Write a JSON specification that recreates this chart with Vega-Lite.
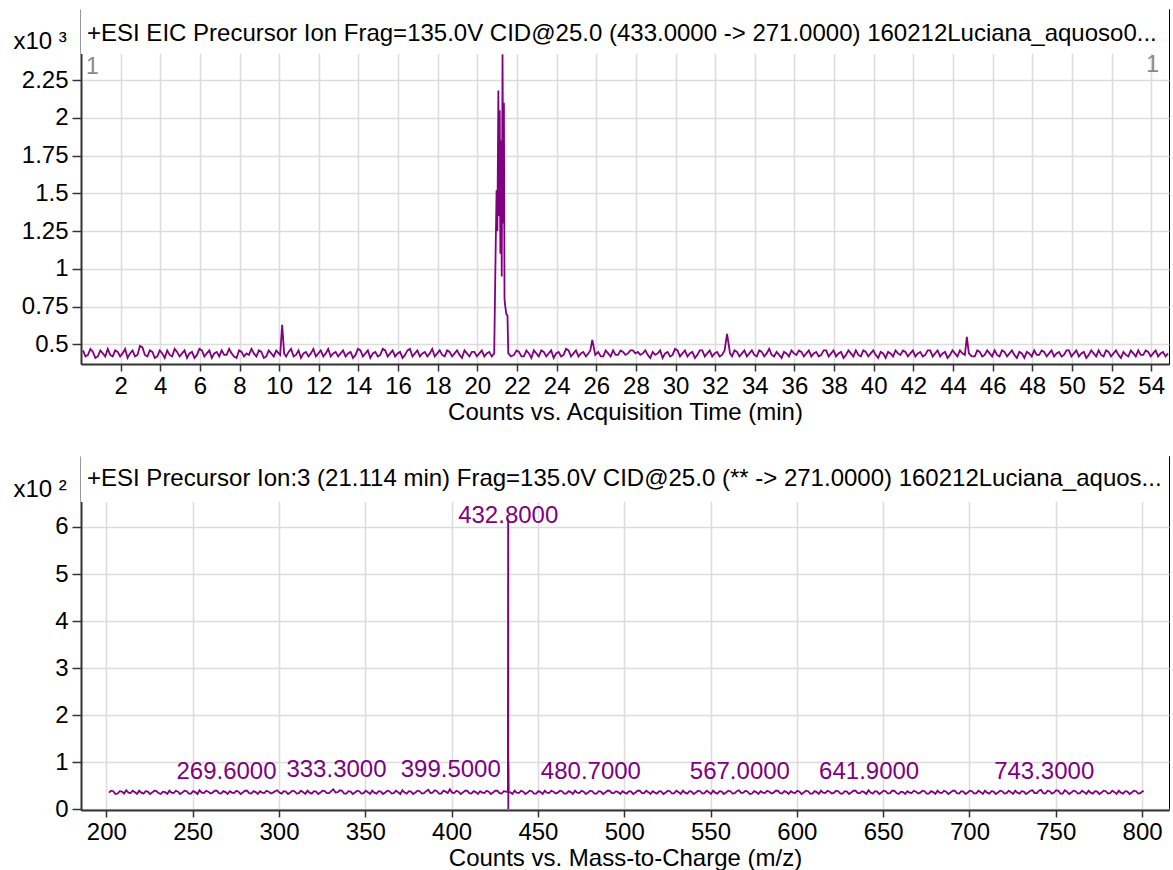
{
  "$schema": "https://vega.github.io/schema/vega-lite/v6.json",
  "background": "white",
  "padding": {"left": 12, "top": 8, "right": 5, "bottom": 5},
  "bounds": "flush",
  "spacing": 92,
  "config": {
    "font": "Liberation Sans",
    "view": {"stroke": "black", "strokeWidth": 1},
    "axis": {
      "labelFont": "Liberation Sans", "labelFontSize": 24, "labelColor": "black",
      "titleFont": "Liberation Sans", "titleFontSize": 24, "titleFontWeight": "normal", "titleColor": "black",
      "gridColor": "#dcdcdc", "gridWidth": 1.5, "tickColor": "#333333", "tickWidth": 1.5,
      "domainColor": "#333333", "domainWidth": 2, "labelOverlap": false, "labelFlush": false
    }
  },
  "vconcat": [
    {
      "width": 1088,
      "height": 355,
      "layer": [
        {
          "data": {"values": [
            {"t":0.1,"c":0.46},{"t":0.225,"c":0.42},{"t":0.35,"c":0.43},{"t":0.475,"c":0.47},{"t":0.6,"c":0.45},{"t":0.725,"c":0.41},{"t":0.85,"c":0.42},{"t":0.975,"c":0.46},{"t":1.1,"c":0.44},{"t":1.225,"c":0.42},{"t":1.35,"c":0.47},{"t":1.475,"c":0.43},{"t":1.6,"c":0.42},{"t":1.725,"c":0.46},{"t":1.85,"c":0.45},{"t":1.975,"c":0.42},{"t":2.1,"c":0.44},{"t":2.225,"c":0.47},{"t":2.35,"c":0.41},{"t":2.475,"c":0.44},
            {"t":2.6,"c":0.46},{"t":2.725,"c":0.42},{"t":2.85,"c":0.43},{"t":2.975,"c":0.49},{"t":3.1,"c":0.48},{"t":3.225,"c":0.43},{"t":3.35,"c":0.42},{"t":3.475,"c":0.46},{"t":3.6,"c":0.45},{"t":3.725,"c":0.41},{"t":3.85,"c":0.42},{"t":3.975,"c":0.46},{"t":4.1,"c":0.44},{"t":4.225,"c":0.41},{"t":4.35,"c":0.46},{"t":4.475,"c":0.43},{"t":4.6,"c":0.42},{"t":4.725,"c":0.47},{"t":4.85,"c":0.45},{"t":4.975,"c":0.42},
            {"t":5.1,"c":0.44},{"t":5.225,"c":0.46},{"t":5.35,"c":0.41},{"t":5.475,"c":0.44},{"t":5.6,"c":0.45},{"t":5.725,"c":0.41},{"t":5.85,"c":0.43},{"t":5.975,"c":0.47},{"t":6.1,"c":0.46},{"t":6.225,"c":0.42},{"t":6.35,"c":0.44},{"t":6.475,"c":0.46},{"t":6.6,"c":0.41},{"t":6.725,"c":0.44},{"t":6.85,"c":0.45},{"t":6.975,"c":0.42},{"t":7.1,"c":0.46},{"t":7.225,"c":0.43},{"t":7.35,"c":0.43},{"t":7.475,"c":0.47},
            {"t":7.6,"c":0.44},{"t":7.725,"c":0.42},{"t":7.85,"c":0.41},{"t":7.975,"c":0.46},{"t":8.1,"c":0.45},{"t":8.225,"c":0.42},{"t":8.35,"c":0.44},{"t":8.475,"c":0.43},{"t":8.6,"c":0.47},{"t":8.725,"c":0.44},{"t":8.85,"c":0.42},{"t":8.975,"c":0.46},{"t":9.1,"c":0.45},{"t":9.225,"c":0.41},{"t":9.35,"c":0.42},{"t":9.475,"c":0.46},{"t":9.6,"c":0.44},{"t":9.725,"c":0.42},{"t":9.85,"c":0.46},{"t":9.975,"c":0.44},
            {"t":10.05,"c":0.43},{"t":10.15,"c":0.63},{"t":10.25,"c":0.44},{"t":10.35,"c":0.42},{"t":10.475,"c":0.45},{"t":10.6,"c":0.47},{"t":10.725,"c":0.42},{"t":10.85,"c":0.43},{"t":10.975,"c":0.46},{"t":11.1,"c":0.41},{"t":11.225,"c":0.44},{"t":11.35,"c":0.45},{"t":11.475,"c":0.42},{"t":11.6,"c":0.44},{"t":11.725,"c":0.47},{"t":11.85,"c":0.42},{"t":11.975,"c":0.44},{"t":12.1,"c":0.46},{"t":12.225,"c":0.42},{"t":12.35,"c":0.44},
            {"t":12.475,"c":0.47},{"t":12.6,"c":0.42},{"t":12.725,"c":0.44},{"t":12.85,"c":0.45},{"t":12.975,"c":0.42},{"t":13.1,"c":0.44},{"t":13.225,"c":0.46},{"t":13.35,"c":0.42},{"t":13.475,"c":0.44},{"t":13.6,"c":0.45},{"t":13.725,"c":0.41},{"t":13.85,"c":0.43},{"t":13.975,"c":0.47},{"t":14.1,"c":0.46},{"t":14.225,"c":0.42},{"t":14.35,"c":0.44},{"t":14.475,"c":0.46},{"t":14.6,"c":0.41},{"t":14.725,"c":0.44},{"t":14.85,"c":0.45},
            {"t":14.975,"c":0.42},{"t":15.1,"c":0.43},{"t":15.225,"c":0.47},{"t":15.35,"c":0.46},{"t":15.475,"c":0.42},{"t":15.6,"c":0.44},{"t":15.725,"c":0.46},{"t":15.85,"c":0.42},{"t":15.975,"c":0.44},{"t":16.1,"c":0.45},{"t":16.225,"c":0.41},{"t":16.35,"c":0.43},{"t":16.475,"c":0.46},{"t":16.6,"c":0.47},{"t":16.725,"c":0.42},{"t":16.85,"c":0.44},{"t":16.975,"c":0.46},{"t":17.1,"c":0.42},{"t":17.225,"c":0.44},{"t":17.35,"c":0.45},
            {"t":17.475,"c":0.42},{"t":17.6,"c":0.44},{"t":17.725,"c":0.47},{"t":17.85,"c":0.42},{"t":17.975,"c":0.44},{"t":18.1,"c":0.46},{"t":18.225,"c":0.43},{"t":18.35,"c":0.42},{"t":18.475,"c":0.46},{"t":18.6,"c":0.45},{"t":18.725,"c":0.42},{"t":18.85,"c":0.44},{"t":18.975,"c":0.46},{"t":19.1,"c":0.43},{"t":19.225,"c":0.41},{"t":19.35,"c":0.46},{"t":19.475,"c":0.44},{"t":19.6,"c":0.42},{"t":19.725,"c":0.45},{"t":19.85,"c":0.45},
            {"t":19.975,"c":0.42},{"t":20.1,"c":0.44},{"t":20.225,"c":0.46},{"t":20.35,"c":0.42},{"t":20.475,"c":0.44},{"t":20.6,"c":0.45},{"t":20.725,"c":0.42},{"t":20.85,"c":0.44},
            {"t":20.92,"c":1.1},{"t":20.97,"c":1.52},{"t":21.01,"c":1.25},{"t":21.06,"c":2.18},{"t":21.09,"c":1.35},{"t":21.13,"c":2.05},{"t":21.16,"c":1.1},{"t":21.2,"c":1.85},{"t":21.23,"c":0.95},{"t":21.27,"c":2.42},{"t":21.31,"c":1.3},{"t":21.34,"c":2.1},{"t":21.37,"c":0.8},{"t":21.4,"c":0.76},{"t":21.46,"c":0.7},{"t":21.52,"c":0.69},{"t":21.56,"c":0.44},
            {"t":21.7,"c":0.42},{"t":21.85,"c":0.43},{"t":21.975,"c":0.46},{"t":22.1,"c":0.45},{"t":22.225,"c":0.42},{"t":22.35,"c":0.42},{"t":22.475,"c":0.46},{"t":22.6,"c":0.44},{"t":22.725,"c":0.41},{"t":22.85,"c":0.46},{"t":22.975,"c":0.44},{"t":23.1,"c":0.42},{"t":23.225,"c":0.46},{"t":23.35,"c":0.45},{"t":23.475,"c":0.42},{"t":23.6,"c":0.44},{"t":23.725,"c":0.46},{"t":23.85,"c":0.41},{"t":23.975,"c":0.44},{"t":24.1,"c":0.45},
            {"t":24.225,"c":0.42},{"t":24.35,"c":0.43},{"t":24.475,"c":0.47},{"t":24.6,"c":0.46},{"t":24.725,"c":0.42},{"t":24.85,"c":0.44},{"t":24.975,"c":0.46},{"t":25.1,"c":0.42},{"t":25.225,"c":0.44},{"t":25.35,"c":0.45},{"t":25.475,"c":0.42},{"t":25.6,"c":0.44},{"t":25.7,"c":0.46},{"t":25.8,"c":0.53},{"t":25.95,"c":0.43},{"t":26.1,"c":0.45},{"t":26.225,"c":0.42},{"t":26.35,"c":0.42},{"t":26.475,"c":0.46},{"t":26.6,"c":0.44},
            {"t":26.725,"c":0.42},{"t":26.85,"c":0.46},{"t":26.975,"c":0.43},{"t":27.1,"c":0.43},{"t":27.225,"c":0.46},{"t":27.35,"c":0.45},{"t":27.475,"c":0.43},{"t":27.6,"c":0.44},{"t":27.725,"c":0.46},{"t":27.85,"c":0.46},{"t":27.975,"c":0.44},{"t":28.1,"c":0.45},{"t":28.225,"c":0.43},{"t":28.35,"c":0.44},{"t":28.475,"c":0.46},{"t":28.6,"c":0.43},{"t":28.725,"c":0.41},{"t":28.85,"c":0.45},{"t":28.975,"c":0.43},{"t":29.1,"c":0.44},
            {"t":29.225,"c":0.46},{"t":29.35,"c":0.41},{"t":29.475,"c":0.44},{"t":29.6,"c":0.45},{"t":29.725,"c":0.42},{"t":29.85,"c":0.43},{"t":29.975,"c":0.47},{"t":30.1,"c":0.46},{"t":30.225,"c":0.42},{"t":30.35,"c":0.44},{"t":30.475,"c":0.46},{"t":30.6,"c":0.42},{"t":30.725,"c":0.44},{"t":30.85,"c":0.45},{"t":30.975,"c":0.41},{"t":31.1,"c":0.43},{"t":31.225,"c":0.46},{"t":31.35,"c":0.46},{"t":31.475,"c":0.42},{"t":31.6,"c":0.44},
            {"t":31.725,"c":0.46},{"t":31.85,"c":0.42},{"t":31.975,"c":0.44},{"t":32.1,"c":0.45},{"t":32.225,"c":0.42},{"t":32.35,"c":0.43},{"t":32.475,"c":0.46},{"t":32.6,"c":0.57},{"t":32.75,"c":0.44},{"t":32.85,"c":0.42},{"t":32.975,"c":0.46},{"t":33.1,"c":0.45},{"t":33.225,"c":0.42},{"t":33.35,"c":0.44},{"t":33.475,"c":0.46},{"t":33.6,"c":0.42},{"t":33.725,"c":0.44},{"t":33.85,"c":0.46},{"t":33.975,"c":0.43},{"t":34.1,"c":0.42},
            {"t":34.225,"c":0.46},{"t":34.35,"c":0.45},{"t":34.475,"c":0.42},{"t":34.6,"c":0.44},{"t":34.725,"c":0.47},{"t":34.85,"c":0.43},{"t":34.975,"c":0.42},{"t":35.1,"c":0.45},{"t":35.225,"c":0.43},{"t":35.35,"c":0.41},{"t":35.475,"c":0.45},{"t":35.6,"c":0.44},{"t":35.725,"c":0.42},{"t":35.85,"c":0.46},{"t":35.975,"c":0.44},{"t":36.1,"c":0.43},{"t":36.225,"c":0.46},{"t":36.35,"c":0.45},{"t":36.475,"c":0.42},{"t":36.6,"c":0.44},
            {"t":36.725,"c":0.46},{"t":36.85,"c":0.42},{"t":36.975,"c":0.44},{"t":37.1,"c":0.45},{"t":37.225,"c":0.42},{"t":37.35,"c":0.43},{"t":37.475,"c":0.46},{"t":37.6,"c":0.46},{"t":37.725,"c":0.42},{"t":37.85,"c":0.44},{"t":37.975,"c":0.46},{"t":38.1,"c":0.42},{"t":38.225,"c":0.44},{"t":38.35,"c":0.45},{"t":38.475,"c":0.41},{"t":38.6,"c":0.43},{"t":38.725,"c":0.46},{"t":38.85,"c":0.44},{"t":38.975,"c":0.42},{"t":39.1,"c":0.46},
            {"t":39.225,"c":0.43},{"t":39.35,"c":0.42},{"t":39.475,"c":0.46},{"t":39.6,"c":0.45},{"t":39.725,"c":0.42},{"t":39.85,"c":0.44},{"t":39.975,"c":0.46},{"t":40.1,"c":0.43},{"t":40.225,"c":0.41},{"t":40.35,"c":0.45},{"t":40.475,"c":0.44},{"t":40.6,"c":0.41},{"t":40.725,"c":0.45},{"t":40.85,"c":0.44},{"t":40.975,"c":0.42},{"t":41.1,"c":0.46},{"t":41.225,"c":0.44},{"t":41.35,"c":0.43},{"t":41.475,"c":0.46},{"t":41.6,"c":0.45},
            {"t":41.725,"c":0.42},{"t":41.85,"c":0.44},{"t":41.975,"c":0.46},{"t":42.1,"c":0.42},{"t":42.225,"c":0.44},{"t":42.35,"c":0.45},{"t":42.475,"c":0.42},{"t":42.6,"c":0.43},{"t":42.725,"c":0.46},{"t":42.85,"c":0.46},{"t":42.975,"c":0.42},{"t":43.1,"c":0.44},{"t":43.225,"c":0.46},{"t":43.35,"c":0.42},{"t":43.475,"c":0.44},{"t":43.6,"c":0.45},{"t":43.725,"c":0.41},{"t":43.85,"c":0.43},{"t":43.975,"c":0.46},{"t":44.1,"c":0.44},
            {"t":44.225,"c":0.42},{"t":44.35,"c":0.46},{"t":44.475,"c":0.44},{"t":44.6,"c":0.43},{"t":44.7,"c":0.55},{"t":44.8,"c":0.44},{"t":44.95,"c":0.42},{"t":45.1,"c":0.42},{"t":45.225,"c":0.46},{"t":45.35,"c":0.45},{"t":45.475,"c":0.42},{"t":45.6,"c":0.43},{"t":45.725,"c":0.46},{"t":45.85,"c":0.44},{"t":45.975,"c":0.42},{"t":46.1,"c":0.46},{"t":46.225,"c":0.43},{"t":46.35,"c":0.42},{"t":46.475,"c":0.46},{"t":46.6,"c":0.45},
            {"t":46.725,"c":0.42},{"t":46.85,"c":0.44},{"t":46.975,"c":0.46},{"t":47.1,"c":0.43},{"t":47.225,"c":0.41},{"t":47.35,"c":0.45},{"t":47.475,"c":0.44},{"t":47.6,"c":0.41},{"t":47.725,"c":0.45},{"t":47.85,"c":0.44},{"t":47.975,"c":0.42},{"t":48.1,"c":0.46},{"t":48.225,"c":0.43},{"t":48.35,"c":0.43},{"t":48.475,"c":0.46},{"t":48.6,"c":0.45},{"t":48.725,"c":0.42},{"t":48.85,"c":0.44},{"t":48.975,"c":0.46},{"t":49.1,"c":0.42},
            {"t":49.225,"c":0.44},{"t":49.35,"c":0.45},{"t":49.475,"c":0.42},{"t":49.6,"c":0.43},{"t":49.725,"c":0.46},{"t":49.85,"c":0.46},{"t":49.975,"c":0.42},{"t":50.1,"c":0.44},{"t":50.225,"c":0.46},{"t":50.35,"c":0.42},{"t":50.475,"c":0.44},{"t":50.6,"c":0.45},{"t":50.725,"c":0.41},{"t":50.85,"c":0.43},{"t":50.975,"c":0.46},{"t":51.1,"c":0.44},{"t":51.225,"c":0.42},{"t":51.35,"c":0.46},{"t":51.475,"c":0.43},{"t":51.6,"c":0.42},
            {"t":51.725,"c":0.46},{"t":51.85,"c":0.45},{"t":51.975,"c":0.42},{"t":52.1,"c":0.44},{"t":52.225,"c":0.46},{"t":52.35,"c":0.43},{"t":52.475,"c":0.41},{"t":52.6,"c":0.45},{"t":52.725,"c":0.43},{"t":52.85,"c":0.42},{"t":52.975,"c":0.46},{"t":53.1,"c":0.44},{"t":53.225,"c":0.42},{"t":53.35,"c":0.46},{"t":53.475,"c":0.43},{"t":53.6,"c":0.43},{"t":53.725,"c":0.46},{"t":53.85,"c":0.45},{"t":53.975,"c":0.42},{"t":54.1,"c":0.44},
            {"t":54.225,"c":0.46},{"t":54.35,"c":0.42},{"t":54.475,"c":0.44},{"t":54.6,"c":0.45},{"t":54.725,"c":0.42},{"t":54.85,"c":0.44}
          ]},
          "mark": {"type": "line", "color": "#800080", "strokeWidth": 1.8},
          "encoding": {
            "x": {"field": "t", "type": "quantitative", "scale": {"domain": [0, 54.9], "nice": false, "zero": false},
                  "axis": {"values": [2,4,6,8,10,12,14,16,18,20,22,24,26,28,30,32,34,36,38,40,42,44,46,48,50,52,54], "grid": true, "tickSize": 7, "labelPadding": 3, "title": "Counts vs. Acquisition Time (min)", "titlePadding": 2}},
            "y": {"field": "c", "type": "quantitative", "scale": {"domain": [0.37, 2.72], "nice": false, "zero": false},
                  "axis": {"values": [0.5,0.75,1,1.25,1.5,1.75,2,2.25], "format": ".2~f", "grid": true, "tickSize": 9, "labelPadding": 4,
                           "title": "x10 ³", "titleAngle": 0, "titleAlign": "left", "titleBaseline": "alphabetic", "titleX": -68, "titleY": 39}}
          }
        },
        {
          "data": {"values": [{}]},
          "mark": {"type": "rect", "fill": "white"},
          "encoding": {"x": {"datum": 0}, "x2": {"datum": 54.9}, "y": {"datum": 2.422}, "y2": {"datum": 2.72}}
        },
        {
          "data": {"values": [{"title": "+ESI EIC Precursor Ion Frag=135.0V CID@25.0 (433.0000 -> 271.0000) 160212Luciana_aquoso0..."}]},
          "mark": {"type": "text", "align": "left", "baseline": "alphabetic", "fontSize": 24, "color": "black", "dx": 6, "dy": 32},
          "encoding": {"x": {"datum": 0}, "y": {"datum": 2.72}, "text": {"field": "title"}}
        },
        {
          "data": {"values": [{"k": "1"}]},
          "mark": {"type": "text", "align": "left", "baseline": "alphabetic", "fontSize": 23, "color": "#8a8a8a", "dx": 5, "dy": 20},
          "encoding": {"x": {"datum": 0}, "y": {"datum": 2.422}, "text": {"field": "k"}}
        },
        {
          "data": {"values": [{"k": "1"}]},
          "mark": {"type": "text", "align": "right", "baseline": "alphabetic", "fontSize": 23, "color": "#8a8a8a", "dx": -10, "dy": 18},
          "encoding": {"x": {"datum": 54.9}, "y": {"datum": 2.422}, "text": {"field": "k"}}
        }
      ]
    },
    {
      "width": 1088,
      "height": 354,
      "layer": [
        {
          "data": {"values": [
            {"mz":201.5,"i":0.35},{"mz":202.75,"i":0.39},{"mz":204,"i":0.38},{"mz":205.25,"i":0.32},{"mz":206.5,"i":0.33},{"mz":207.75,"i":0.38},{"mz":209,"i":0.37},{"mz":210.25,"i":0.33},{"mz":211.5,"i":0.4},{"mz":212.75,"i":0.35},{"mz":214,"i":0.34},{"mz":215.25,"i":0.39},{"mz":216.5,"i":0.36},{"mz":217.75,"i":0.32},{"mz":219,"i":0.39},{"mz":220.25,"i":0.35},{"mz":221.5,"i":0.33},{"mz":222.75,"i":0.38},{"mz":224,"i":0.37},{"mz":225.25,"i":0.32},
            {"mz":226.5,"i":0.35},{"mz":227.75,"i":0.39},{"mz":229,"i":0.38},{"mz":230.25,"i":0.34},{"mz":231.5,"i":0.32},{"mz":232.75,"i":0.37},{"mz":234,"i":0.36},{"mz":235.25,"i":0.32},{"mz":236.5,"i":0.39},{"mz":237.75,"i":0.35},{"mz":239,"i":0.34},{"mz":240.25,"i":0.39},{"mz":241.5,"i":0.37},{"mz":242.75,"i":0.32},{"mz":244,"i":0.35},{"mz":245.25,"i":0.39},{"mz":246.5,"i":0.38},{"mz":247.75,"i":0.33},{"mz":249,"i":0.33},{"mz":250.25,"i":0.38},
            {"mz":251.5,"i":0.36},{"mz":252.75,"i":0.32},{"mz":254,"i":0.4},{"mz":255.25,"i":0.35},{"mz":256.5,"i":0.34},{"mz":257.75,"i":0.39},{"mz":259,"i":0.37},{"mz":260.25,"i":0.33},{"mz":261.5,"i":0.35},{"mz":262.75,"i":0.39},{"mz":264,"i":0.39},{"mz":265.25,"i":0.34},{"mz":266.5,"i":0.33},{"mz":267.75,"i":0.38},{"mz":269,"i":0.36},{"mz":270.25,"i":0.32},{"mz":271.5,"i":0.38},{"mz":272.75,"i":0.35},{"mz":274,"i":0.34},{"mz":275.25,"i":0.39},
            {"mz":276.5,"i":0.37},{"mz":277.75,"i":0.32},{"mz":279,"i":0.35},{"mz":280.25,"i":0.39},{"mz":281.5,"i":0.39},{"mz":282.75,"i":0.34},{"mz":284,"i":0.33},{"mz":285.25,"i":0.38},{"mz":286.5,"i":0.36},{"mz":287.75,"i":0.32},{"mz":289,"i":0.38},{"mz":290.25,"i":0.35},{"mz":291.5,"i":0.34},{"mz":292.75,"i":0.39},{"mz":294,"i":0.37},{"mz":295.25,"i":0.33},{"mz":296.5,"i":0.35},{"mz":297.75,"i":0.38},{"mz":299,"i":0.4},{"mz":300.25,"i":0.35},
            {"mz":301.5,"i":0.33},{"mz":302.75,"i":0.38},{"mz":304,"i":0.37},{"mz":305.25,"i":0.32},{"mz":306.5,"i":0.35},{"mz":307.75,"i":0.39},{"mz":309,"i":0.38},{"mz":310.25,"i":0.33},{"mz":311.5,"i":0.34},{"mz":312.75,"i":0.39},{"mz":314,"i":0.36},{"mz":315.25,"i":0.32},{"mz":316.5,"i":0.39},{"mz":317.75,"i":0.35},{"mz":319,"i":0.33},{"mz":320.25,"i":0.38},{"mz":321.5,"i":0.37},{"mz":322.75,"i":0.32},{"mz":324,"i":0.35},{"mz":325.25,"i":0.39},
            {"mz":326.5,"i":0.38},{"mz":327.75,"i":0.34},{"mz":329,"i":0.34},{"mz":330.25,"i":0.38},{"mz":331.5,"i":0.42},{"mz":332.75,"i":0.35},{"mz":334,"i":0.36},{"mz":335.25,"i":0.4},{"mz":336.5,"i":0.39},{"mz":337.75,"i":0.33},{"mz":339,"i":0.33},{"mz":340.25,"i":0.38},{"mz":341.5,"i":0.37},{"mz":342.75,"i":0.32},{"mz":344,"i":0.35},{"mz":345.25,"i":0.39},{"mz":346.5,"i":0.38},{"mz":347.75,"i":0.33},{"mz":349,"i":0.34},{"mz":350.25,"i":0.39},
            {"mz":351.5,"i":0.36},{"mz":352.75,"i":0.32},{"mz":354,"i":0.39},{"mz":355.25,"i":0.35},{"mz":356.5,"i":0.33},{"mz":357.75,"i":0.38},{"mz":359,"i":0.37},{"mz":360.25,"i":0.32},{"mz":361.5,"i":0.35},{"mz":362.75,"i":0.39},{"mz":364,"i":0.38},{"mz":365.25,"i":0.33},{"mz":366.5,"i":0.34},{"mz":367.75,"i":0.39},{"mz":369,"i":0.36},{"mz":370.25,"i":0.32},{"mz":371.5,"i":0.4},{"mz":372.75,"i":0.35},{"mz":374,"i":0.33},{"mz":375.25,"i":0.38},
            {"mz":376.5,"i":0.37},{"mz":377.75,"i":0.32},{"mz":379,"i":0.35},{"mz":380.25,"i":0.39},{"mz":381.5,"i":0.38},{"mz":382.75,"i":0.33},{"mz":384,"i":0.34},{"mz":385.25,"i":0.38},{"mz":386.5,"i":0.41},{"mz":387.75,"i":0.34},{"mz":389,"i":0.35},{"mz":390.25,"i":0.4},{"mz":391.5,"i":0.38},{"mz":392.75,"i":0.33},{"mz":394,"i":0.33},{"mz":395.25,"i":0.39},{"mz":396.5,"i":0.37},{"mz":397.75,"i":0.34},{"mz":399,"i":0.42},{"mz":400.25,"i":0.35},
            {"mz":401.5,"i":0.34},{"mz":402.75,"i":0.39},{"mz":404,"i":0.37},{"mz":405.25,"i":0.32},{"mz":406.5,"i":0.35},{"mz":407.75,"i":0.39},{"mz":409,"i":0.39},{"mz":410.25,"i":0.34},{"mz":411.5,"i":0.33},{"mz":412.75,"i":0.38},{"mz":414,"i":0.36},{"mz":415.25,"i":0.32},{"mz":416.5,"i":0.38},{"mz":417.75,"i":0.35},{"mz":419,"i":0.34},{"mz":420.25,"i":0.39},{"mz":421.5,"i":0.37},{"mz":422.75,"i":0.32},{"mz":424,"i":0.35},{"mz":425.25,"i":0.39},
            {"mz":426.5,"i":0.39},{"mz":427.75,"i":0.34},{"mz":429,"i":0.33},{"mz":430.25,"i":0.38},{"mz":431.5,"i":0.37},{"mz":432.6,"i":0.36},{"mz":432.75,"i":6.17},{"mz":432.85,"i":0.0},{"mz":432.95,"i":1.0},{"mz":433.1,"i":0.35},{"mz":434,"i":0.36},{"mz":435.25,"i":0.32},{"mz":436.5,"i":0.39},{"mz":437.75,"i":0.35},{"mz":439,"i":0.34},{"mz":440.25,"i":0.39},{"mz":441.5,"i":0.37},{"mz":442.75,"i":0.32},{"mz":444,"i":0.35},{"mz":445.25,"i":0.39},
            {"mz":446.5,"i":0.38},{"mz":447.75,"i":0.33},{"mz":449,"i":0.33},{"mz":450.25,"i":0.38},{"mz":451.5,"i":0.36},{"mz":452.75,"i":0.32},{"mz":454,"i":0.39},{"mz":455.25,"i":0.35},{"mz":456.5,"i":0.34},{"mz":457.75,"i":0.39},{"mz":459,"i":0.37},{"mz":460.25,"i":0.33},{"mz":461.5,"i":0.35},{"mz":462.75,"i":0.39},{"mz":464,"i":0.38},{"mz":465.25,"i":0.33},{"mz":466.5,"i":0.33},{"mz":467.75,"i":0.38},{"mz":469,"i":0.36},{"mz":470.25,"i":0.32},
            {"mz":471.5,"i":0.39},{"mz":472.75,"i":0.35},{"mz":474,"i":0.34},{"mz":475.25,"i":0.39},{"mz":476.5,"i":0.37},{"mz":477.75,"i":0.32},{"mz":479,"i":0.35},{"mz":480.25,"i":0.39},{"mz":481.5,"i":0.38},{"mz":482.75,"i":0.33},{"mz":484,"i":0.33},{"mz":485.25,"i":0.38},{"mz":486.5,"i":0.37},{"mz":487.75,"i":0.32},{"mz":489,"i":0.35},{"mz":490.25,"i":0.39},{"mz":491.5,"i":0.39},{"mz":492.75,"i":0.34},{"mz":494,"i":0.34},{"mz":495.25,"i":0.38},
            {"mz":496.5,"i":0.36},{"mz":497.75,"i":0.32},{"mz":499,"i":0.38},{"mz":500.25,"i":0.35},{"mz":501.5,"i":0.33},{"mz":502.75,"i":0.38},{"mz":504,"i":0.37},{"mz":505.25,"i":0.32},{"mz":506.5,"i":0.35},{"mz":507.75,"i":0.39},{"mz":509,"i":0.39},{"mz":510.25,"i":0.34},{"mz":511.5,"i":0.34},{"mz":512.75,"i":0.39},{"mz":514,"i":0.36},{"mz":515.25,"i":0.32},{"mz":516.5,"i":0.38},{"mz":517.75,"i":0.35},{"mz":519,"i":0.33},{"mz":520.25,"i":0.38},
            {"mz":521.5,"i":0.37},{"mz":522.75,"i":0.32},{"mz":524,"i":0.35},{"mz":525.25,"i":0.39},{"mz":526.5,"i":0.38},{"mz":527.75,"i":0.33},{"mz":529,"i":0.34},{"mz":530.25,"i":0.39},{"mz":531.5,"i":0.36},{"mz":532.75,"i":0.32},{"mz":534,"i":0.39},{"mz":535.25,"i":0.35},{"mz":536.5,"i":0.33},{"mz":537.75,"i":0.38},{"mz":539,"i":0.37},{"mz":540.25,"i":0.32},{"mz":541.5,"i":0.35},{"mz":542.75,"i":0.39},{"mz":544,"i":0.38},{"mz":545.25,"i":0.33},
            {"mz":546.5,"i":0.34},{"mz":547.75,"i":0.39},{"mz":549,"i":0.36},{"mz":550.25,"i":0.32},{"mz":551.5,"i":0.39},{"mz":552.75,"i":0.35},{"mz":554,"i":0.33},{"mz":555.25,"i":0.38},{"mz":556.5,"i":0.37},{"mz":557.75,"i":0.32},{"mz":559,"i":0.35},{"mz":560.25,"i":0.39},{"mz":561.5,"i":0.38},{"mz":562.75,"i":0.33},{"mz":564,"i":0.34},{"mz":565.25,"i":0.38},{"mz":566.5,"i":0.4},{"mz":567.75,"i":0.34},{"mz":569,"i":0.35},{"mz":570.25,"i":0.39},
            {"mz":571.5,"i":0.37},{"mz":572.75,"i":0.32},{"mz":574,"i":0.33},{"mz":575.25,"i":0.38},{"mz":576.5,"i":0.36},{"mz":577.75,"i":0.32},{"mz":579,"i":0.38},{"mz":580.25,"i":0.35},{"mz":581.5,"i":0.34},{"mz":582.75,"i":0.39},{"mz":584,"i":0.37},{"mz":585.25,"i":0.33},{"mz":586.5,"i":0.35},{"mz":587.75,"i":0.39},{"mz":589,"i":0.39},{"mz":590.25,"i":0.34},{"mz":591.5,"i":0.33},{"mz":592.75,"i":0.38},{"mz":594,"i":0.36},{"mz":595.25,"i":0.32},
            {"mz":596.5,"i":0.38},{"mz":597.75,"i":0.35},{"mz":599,"i":0.34},{"mz":600.25,"i":0.39},{"mz":601.5,"i":0.37},{"mz":602.75,"i":0.32},{"mz":604,"i":0.35},{"mz":605.25,"i":0.39},{"mz":606.5,"i":0.38},{"mz":607.75,"i":0.33},{"mz":609,"i":0.33},{"mz":610.25,"i":0.38},{"mz":611.5,"i":0.36},{"mz":612.75,"i":0.32},{"mz":614,"i":0.39},{"mz":615.25,"i":0.35},{"mz":616.5,"i":0.34},{"mz":617.75,"i":0.39},{"mz":619,"i":0.37},{"mz":620.25,"i":0.33},
            {"mz":621.5,"i":0.35},{"mz":622.75,"i":0.39},{"mz":624,"i":0.38},{"mz":625.25,"i":0.33},{"mz":626.5,"i":0.33},{"mz":627.75,"i":0.38},{"mz":629,"i":0.37},{"mz":630.25,"i":0.32},{"mz":631.5,"i":0.35},{"mz":632.75,"i":0.39},{"mz":634,"i":0.39},{"mz":635.25,"i":0.34},{"mz":636.5,"i":0.34},{"mz":637.75,"i":0.38},{"mz":639,"i":0.36},{"mz":640.25,"i":0.32},{"mz":641.5,"i":0.4},{"mz":642.75,"i":0.35},{"mz":644,"i":0.33},{"mz":645.25,"i":0.38},
            {"mz":646.5,"i":0.37},{"mz":647.75,"i":0.32},{"mz":649,"i":0.35},{"mz":650.25,"i":0.39},{"mz":651.5,"i":0.38},{"mz":652.75,"i":0.33},{"mz":654,"i":0.34},{"mz":655.25,"i":0.39},{"mz":656.5,"i":0.39},{"mz":657.75,"i":0.34},{"mz":659,"i":0.32},{"mz":660.25,"i":0.37},{"mz":661.5,"i":0.36},{"mz":662.75,"i":0.32},{"mz":664,"i":0.38},{"mz":665.25,"i":0.35},{"mz":666.5,"i":0.34},{"mz":667.75,"i":0.39},{"mz":669,"i":0.37},{"mz":670.25,"i":0.33},
            {"mz":671.5,"i":0.35},{"mz":672.75,"i":0.39},{"mz":674,"i":0.38},{"mz":675.25,"i":0.33},{"mz":676.5,"i":0.33},{"mz":677.75,"i":0.38},{"mz":679,"i":0.36},{"mz":680.25,"i":0.32},{"mz":681.5,"i":0.39},{"mz":682.75,"i":0.35},{"mz":684,"i":0.34},{"mz":685.25,"i":0.39},{"mz":686.5,"i":0.37},{"mz":687.75,"i":0.32},{"mz":689,"i":0.35},{"mz":690.25,"i":0.39},{"mz":691.5,"i":0.39},{"mz":692.75,"i":0.34},{"mz":694,"i":0.33},{"mz":695.25,"i":0.38},
            {"mz":696.5,"i":0.37},{"mz":697.75,"i":0.32},{"mz":699,"i":0.35},{"mz":700.25,"i":0.39},{"mz":701.5,"i":0.38},{"mz":702.75,"i":0.33},{"mz":704,"i":0.34},{"mz":705.25,"i":0.39},{"mz":706.5,"i":0.36},{"mz":707.75,"i":0.32},{"mz":709,"i":0.39},{"mz":710.25,"i":0.35},{"mz":711.5,"i":0.33},{"mz":712.75,"i":0.38},{"mz":714,"i":0.37},{"mz":715.25,"i":0.32},{"mz":716.5,"i":0.35},{"mz":717.75,"i":0.39},{"mz":719,"i":0.38},{"mz":720.25,"i":0.33},
            {"mz":721.5,"i":0.34},{"mz":722.75,"i":0.39},{"mz":724,"i":0.36},{"mz":725.25,"i":0.32},{"mz":726.5,"i":0.39},{"mz":727.75,"i":0.35},{"mz":729,"i":0.33},{"mz":730.25,"i":0.38},{"mz":731.5,"i":0.37},{"mz":732.75,"i":0.32},{"mz":734,"i":0.35},{"mz":735.25,"i":0.39},{"mz":736.5,"i":0.4},{"mz":737.75,"i":0.34},{"mz":739,"i":0.34},{"mz":740.25,"i":0.39},{"mz":741.5,"i":0.41},{"mz":742.75,"i":0.34},{"mz":744,"i":0.33},{"mz":745.25,"i":0.39},
            {"mz":746.5,"i":0.38},{"mz":747.75,"i":0.33},{"mz":749,"i":0.35},{"mz":750.25,"i":0.4},{"mz":751.5,"i":0.39},{"mz":752.75,"i":0.33},{"mz":754,"i":0.33},{"mz":755.25,"i":0.4},{"mz":756.5,"i":0.37},{"mz":757.75,"i":0.32},{"mz":759,"i":0.35},{"mz":760.25,"i":0.39},{"mz":761.5,"i":0.38},{"mz":762.75,"i":0.33},{"mz":764,"i":0.34},{"mz":765.25,"i":0.39},{"mz":766.5,"i":0.36},{"mz":767.75,"i":0.32},{"mz":769,"i":0.39},{"mz":770.25,"i":0.35},
            {"mz":771.5,"i":0.33},{"mz":772.75,"i":0.38},{"mz":774,"i":0.37},{"mz":775.25,"i":0.32},{"mz":776.5,"i":0.35},{"mz":777.75,"i":0.39},{"mz":779,"i":0.38},{"mz":780.25,"i":0.33},{"mz":781.5,"i":0.34},{"mz":782.75,"i":0.39},{"mz":784,"i":0.36},{"mz":785.25,"i":0.32},{"mz":786.5,"i":0.39},{"mz":787.75,"i":0.35},{"mz":789,"i":0.33},{"mz":790.25,"i":0.38},{"mz":791.5,"i":0.37},{"mz":792.75,"i":0.32},{"mz":794,"i":0.35},{"mz":795.25,"i":0.39},
            {"mz":796.5,"i":0.38},{"mz":797.75,"i":0.33},{"mz":799,"i":0.34},{"mz":800.25,"i":0.38},{"mz":801,"i":0.37}
          ]},
          "mark": {"type": "line", "color": "#800080", "strokeWidth": 1.8},
          "encoding": {
            "x": {"field": "mz", "type": "quantitative", "scale": {"domain": [185.3, 815.6], "nice": false, "zero": false},
                  "axis": {"values": [200,250,300,350,400,450,500,550,600,650,700,750,800], "grid": true, "tickSize": 7, "labelPadding": 3, "title": "Counts vs. Mass-to-Charge (m/z)", "titlePadding": 2}},
            "y": {"field": "i", "type": "quantitative", "scale": {"domain": [-0.02, 7.51], "nice": false, "zero": false},
                  "axis": {"values": [0,1,2,3,4,5,6], "grid": true, "tickSize": 9, "labelPadding": 4,
                           "title": "x10 ²", "titleAngle": 0, "titleAlign": "left", "titleBaseline": "alphabetic", "titleX": -68, "titleY": 40}}
          }
        },
        {
          "data": {"values": [{}]},
          "mark": {"type": "rect", "fill": "white"},
          "encoding": {"x": {"datum": 185.3}, "x2": {"datum": 815.6}, "y": {"datum": 6.53}, "y2": {"datum": 7.51}}
        },
        {
          "data": {"values": [
            {"mz": 269.6, "i": 0.64, "label": "269.6000"},
            {"mz": 333.3, "i": 0.68, "label": "333.3000"},
            {"mz": 399.5, "i": 0.68, "label": "399.5000"},
            {"mz": 432.8, "i": 6.09, "label": "432.8000"},
            {"mz": 480.7, "i": 0.64, "label": "480.7000"},
            {"mz": 567.0, "i": 0.64, "label": "567.0000"},
            {"mz": 641.9, "i": 0.64, "label": "641.9000"},
            {"mz": 743.3, "i": 0.64, "label": "743.3000"}
          ]},
          "mark": {"type": "text", "align": "center", "baseline": "alphabetic", "fontSize": 24, "color": "#800080"},
          "encoding": {"x": {"field": "mz", "type": "quantitative"}, "y": {"field": "i", "type": "quantitative"}, "text": {"field": "label"}}
        },
        {
          "data": {"values": [{"title": "+ESI Precursor Ion:3 (21.114 min) Frag=135.0V CID@25.0 (** -> 271.0000) 160212Luciana_aquos..."}]},
          "mark": {"type": "text", "align": "left", "baseline": "alphabetic", "fontSize": 24, "color": "black", "dx": 6, "dy": 30},
          "encoding": {"x": {"datum": 185.3}, "y": {"datum": 7.51}, "text": {"field": "title"}}
        }
      ]
    }
  ]
}
